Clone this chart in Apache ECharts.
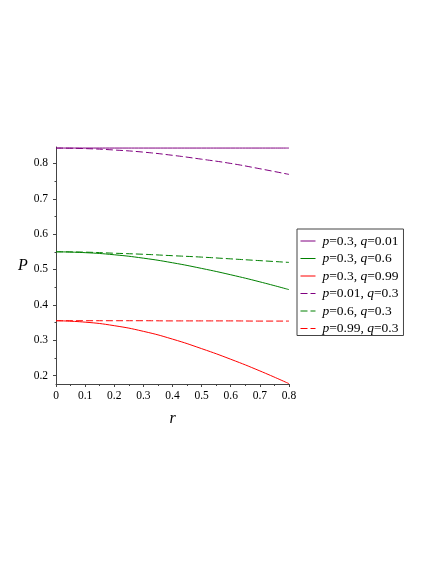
<!DOCTYPE html>
<html>
<head>
<meta charset="utf-8">
<script src="https://cdn.jsdelivr.net/npm/echarts@6/dist/echarts.min.js"></script>
<style>
html,body{margin:0;padding:0;background:#fff;}
#chart{width:436px;height:564px;}
</style>
</head>
<body>
<div id="chart"></div>
<script>
var rValues = [0, 0.1, 0.2, 0.3, 0.4, 0.5, 0.6, 0.7, 0.8];
var pLabels = ['0.3', '0.3', '0.3', '0.01', '0.6', '0.99'];
var qLabels = ['0.01', '0.6', '0.99', '0.3', '0.3', '0.3'];
var seriesP03q001 = [0.8435, 0.8435, 0.8435, 0.8435, 0.8435, 0.8435, 0.8435, 0.8435, 0.8435];
var seriesP03q06 = [0.550, 0.5476, 0.5416, 0.532, 0.519, 0.503, 0.485, 0.465, 0.443];
var seriesP03q099 = [0.355, 0.351, 0.341, 0.325, 0.303, 0.276, 0.246, 0.213, 0.177];
var seriesP001q03 = [0.8435, 0.842, 0.838, 0.832, 0.823, 0.812, 0.800, 0.785, 0.769];
var seriesP06q03 = [0.550, 0.549, 0.546, 0.543, 0.539, 0.535, 0.530, 0.525, 0.520];
var seriesP099q03 = [0.355, 0.355, 0.355, 0.355, 0.3545, 0.3545, 0.3545, 0.354, 0.354];
var yMajorTicks = [0.2, 0.3, 0.4, 0.5, 0.6, 0.7, 0.8];
var yMinorTicks = [0.25, 0.35, 0.45, 0.55, 0.65, 0.75];

var allSeries = [seriesP03q001, seriesP03q06, seriesP03q099, seriesP001q03, seriesP06q03, seriesP099q03];
var colors = ['#800080', '#008000', '#ff0000', '#800080', '#008000', '#ff0000'];
var dashed = [false, false, false, true, true, true];
var names = pLabels.map(function (p, i) { return 'p=' + p + ', q=' + qLabels[i]; });

var serif = '"Liberation Serif", "DejaVu Serif", serif';

var chart = echarts.init(document.getElementById('chart'), null, {renderer: 'canvas'});
var series = allSeries.map(function (vals, i) {
  return {
    name: names[i],
    type: 'line',
    xAxisIndex: 0,
    yAxisIndex: 0,
    data: rValues.map(function (r, j) { return [r, vals[j]]; }),
    smooth: true,
    symbol: 'none',
    lineStyle: {color: colors[i], width: 1, type: dashed[i] ? [7, 3] : 'solid'},
    itemStyle: {color: colors[i]},
    emphasis: {disabled: true},
    z: dashed[i] ? 3 : 2
  };
});

chart.setOption({
  animation: false,
  backgroundColor: '#fff',
  grid: {left: 56, right: 147, top: 147, bottom: 180, containLabel: false},
  legend: {
    orient: 'vertical',
    left: 297,
    top: 229,
    padding: [5, 5, 0, 3],
    itemGap: 3.5,
    itemWidth: 15,
    itemHeight: 14,
    borderColor: '#444',
    borderWidth: 1,
    borderRadius: 0,
    selectedMode: false,
    itemStyle: {opacity: 0},
    lineStyle: {width: 1},
    data: names,
    formatter: function (name) {
      var i = names.indexOf(name);
      return '{i|p}=' + pLabels[i] + ', {i|q}=' + qLabels[i];
    },
    textStyle: {
      fontFamily: serif, fontSize: 13.5, color: '#000', padding: [0, 0, 0, 2],
      rich: {i: {fontFamily: serif, fontSize: 13.5, fontStyle: 'italic', color: '#000'}}
    }
  },
  xAxis: [{
    type: 'value',
    min: 0, max: 0.8, interval: 0.1,
    name: 'r',
    nameLocation: 'middle',
    nameGap: 27,
    nameTextStyle: {fontFamily: serif, fontSize: 16, fontStyle: 'italic', color: '#000'},
    axisLine: {show: true, onZero: false, lineStyle: {color: '#444', width: 1}},
    axisTick: {show: true, inside: false, length: 3, lineStyle: {color: '#444'}},
    minorTick: {show: true, splitNumber: 2, length: 2, lineStyle: {color: '#444'}},
    splitLine: {show: false},
    axisLabel: {fontFamily: serif, fontSize: 11.5, color: '#000', margin: 6,
      formatter: function (v) { return v === 0 ? '0' : String(Math.round(v * 10) / 10); }}
  }],
  yAxis: [{
    type: 'value',
    min: 0.176, max: 0.8465,
    name: 'P',
    nameLocation: 'middle',
    nameRotate: 0,
    nameGap: 19,
    nameTextStyle: {fontFamily: serif, fontSize: 16, fontStyle: 'italic', color: '#000'},
    axisLine: {show: true, onZero: false, lineStyle: {color: '#444', width: 1}},
    axisTick: {show: true, inside: false, length: 3, customValues: yMajorTicks, lineStyle: {color: '#444'}},
    splitLine: {show: false},
    axisLabel: {fontFamily: serif, fontSize: 11.5, color: '#000', margin: 8, customValues: yMajorTicks,
      formatter: function (v) { return String(Math.round(v * 10) / 10); }}
  }, {
    type: 'value',
    min: 0.176, max: 0.8465,
    position: 'left',
    axisLine: {show: false},
    axisTick: {show: true, inside: false, length: 1.5, customValues: yMinorTicks, lineStyle: {color: '#444'}},
    axisLabel: {show: false},
    splitLine: {show: false}
  }],
  series: series
});
</script>
</body>
</html>
